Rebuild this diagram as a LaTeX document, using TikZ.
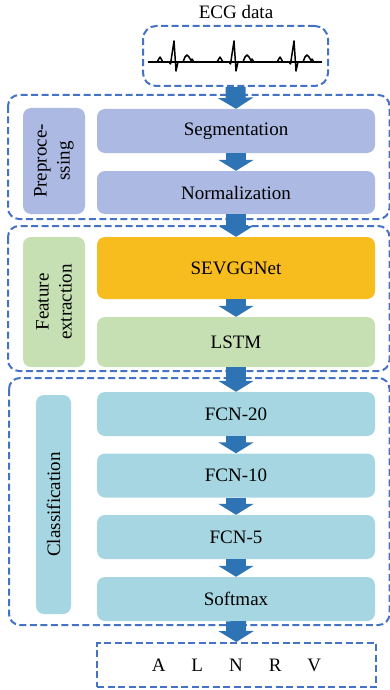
\documentclass[tikz,border=0pt]{standalone}
\usepackage{fontspec}
\setmainfont{Liberation Serif}
\usepackage{xcolor}
\usepackage{tikz}
\usetikzlibrary{arrows.meta, positioning}

\definecolor{arrowblue}{RGB}{46,116,181}
\definecolor{dashblue}{RGB}{68,114,196}
\definecolor{preblue}{RGB}{172,185,227}
\definecolor{featgreen}{RGB}{198,224,180}
\definecolor{sevorange}{RGB}{247,189,30}
\definecolor{clsblue}{RGB}{166,214,226}

\begin{document}
\begin{tikzpicture}[
  x=1pt, y=-1pt,
  font=\fontsize{19}{23}\selectfont,
  box/.style={rectangle, rounded corners=8pt, align=center,
    minimum width=278pt, minimum height=44pt, inner sep=0pt},
  lbl/.style={rectangle, rounded corners=8pt, align=center, rotate=90, inner sep=0pt},
  dashline/.style={draw=dashblue, line width=2pt, dash pattern=on 7pt off 3.5pt},
  grp/.style={dashline, rounded corners=11pt},
  fatarr/.style={draw=arrowblue, line width=20pt, -{Triangle[width=35pt, length=11pt]}},
  ecgline/.style={line width=1.5pt, line join=round}
]
\useasboundingbox (0,0) rectangle (390,690);

% input
\node (title) at (236,12) {ECG data};
\node[grp, rounded corners=13pt, minimum width=185pt, minimum height=60pt] (ecg) at (235.5,56) {};
\draw[ecgline] (148,62) -- (322,62);
\foreach \r in {174,234,294}
  \draw[ecgline] (\r-17,62) -- (\r-15.5,59.5) -- (\r-14,57) -- (\r-12.5,59.5) -- (\r-11,62)
    -- (\r-5,62) -- (\r-3.5,64) -- (\r,41) -- (\r+2,71) -- (\r+4,62) -- (\r+9,62)
    -- (\r+11,57) -- (\r+13,55) -- (\r+15,57) -- (\r+17,60.5) -- (\r+18,59) -- (\r+20,62);

% groups
\draw[grp] (8,95) rectangle (389.5,219);
\draw[grp] (8,226) rectangle (389.5,371);
\draw[grp] (9,378) rectangle (389.5,625);

% preprocessing
\node[lbl, fill=preblue, minimum width=106pt, minimum height=62pt] (prelbl) at (54,161) {Preproce-\\ssing};
\node[box, fill=preblue] (seg) at (236,131) {Segmentation};
\node[box, fill=preblue, minimum height=43pt] (norm) at (236,192.5) {Normalization};

% feature extraction
\node[lbl, fill=featgreen, minimum width=130pt, minimum height=62pt] (featlbl) at (54,302) {Feature\\extraction};
\node[box, fill=sevorange, minimum height=62pt] (sev) at (236,268) {SEVGGNet};
\node[box, fill=featgreen, minimum height=50pt] (lstm) at (236,342) {LSTM};

% classification
\node[lbl, fill=clsblue, minimum width=219pt, minimum height=35pt] (clslbl) at (53.5,504.5) {Classification};
\node[box, fill=clsblue] (fc20) at (236,414) {FCN-20};
\node[box, fill=clsblue] (fc10) at (236,475.5) {FCN-10};
\node[box, fill=clsblue] (fc5) at (236,537) {FCN-5};
\node[box, fill=clsblue] (soft) at (236,599) {Softmax};

% output
\node[dashline, minimum width=279pt, minimum height=44pt] (out) at (236.5,665)
  {A\hspace{26pt}L\hspace{26pt}N\hspace{26pt}R\hspace{26pt}V};

\draw[fatarr] (ecg.south)--(seg.north);
\draw[fatarr] (seg)--(norm);
\draw[fatarr] (norm)--(sev);
\draw[fatarr] (sev)--(lstm);
\draw[fatarr] (lstm)--(fc20);
\draw[fatarr] (fc20)--(fc10);
\draw[fatarr] (fc10)--(fc5);
\draw[fatarr] (fc5)--(soft);
\draw[fatarr] (soft)--(out);
\end{tikzpicture}
\end{document}
